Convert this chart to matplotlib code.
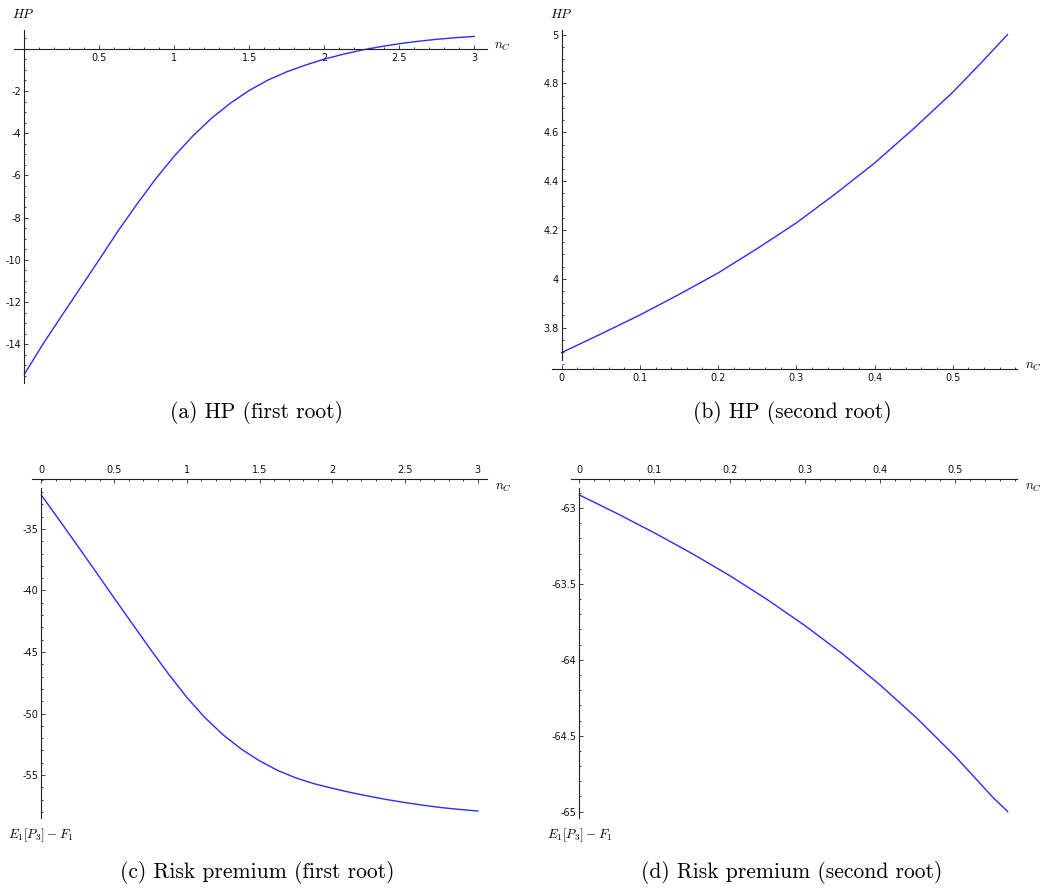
import matplotlib
matplotlib.use("Agg")
import matplotlib.pyplot as plt
from matplotlib.ticker import FixedLocator, MultipleLocator, FuncFormatter

plt.rcParams['axes.unicode_minus'] = False
plt.rcParams['mathtext.fontset'] = 'cm'

# ---- data ----
x_a = [0, 0.125, 0.25, 0.375, 0.5, 0.625, 0.75, 0.875, 1.0, 1.125, 1.25, 1.375,
       1.5, 1.625, 1.75, 1.875, 2.0, 2.125, 2.25, 2.375, 2.5, 2.625, 2.75, 2.875, 3.0]
hp_first = [-15.42, -13.98, -12.64, -11.31, -9.98, -8.63, -7.37, -6.17, -5.08, -4.12,
            -3.28, -2.57, -1.97, -1.48, -1.09, -0.77, -0.49, -0.26, -0.06, 0.10,
            0.24, 0.355, 0.45, 0.525, 0.585]

x_b = [0, 0.05, 0.1, 0.15, 0.2, 0.25, 0.3, 0.35, 0.4, 0.45, 0.5, 0.535, 0.57]
hp_second = [3.698, 3.774, 3.852, 3.936, 4.024, 4.124, 4.229, 4.348, 4.474,
             4.615, 4.764, 4.88, 5.0]

x_c = [0, 0.125, 0.25, 0.375, 0.5, 0.625, 0.75, 0.875, 1.0, 1.125, 1.25, 1.375,
       1.5, 1.625, 1.75, 1.875, 2.0, 2.125, 2.25, 2.375, 2.5, 2.625, 2.75, 2.875, 3.0]
rp_first = [-32.24, -34.30, -36.38, -38.48, -40.60, -42.70, -44.78, -46.80, -48.69,
            -50.34, -51.74, -52.90, -53.85, -54.63, -55.24, -55.71, -56.08, -56.42,
            -56.72, -57.00, -57.24, -57.46, -57.65, -57.80, -57.93]

x_d = [0, 0.05, 0.1, 0.15, 0.2, 0.25, 0.3, 0.35, 0.4, 0.45, 0.5, 0.55, 0.57]
rp_second = [-62.914, -63.036, -63.164, -63.300, -63.445, -63.603, -63.774,
             -63.960, -64.165, -64.389, -64.635, -64.905, -65.0]

xt_a = [0.5, 1, 1.5, 2, 2.5, 3]
yt_a = [-14, -12, -10, -8, -6, -4, -2]
xt_b = [0, 0.1, 0.2, 0.3, 0.4, 0.5]
yt_b = [3.8, 4.0, 4.2, 4.4, 4.6, 4.8, 5.0]
xt_c = [0, 0.5, 1, 1.5, 2, 2.5, 3]
yt_c = [-55, -50, -45, -40, -35]
xt_d = [0, 0.1, 0.2, 0.3, 0.4, 0.5]
yt_d = [-65, -64.5, -64, -63.5, -63]

captions = ["(a) HP (first root)", "(b) HP (second root)",
            "(c) Risk premium (first root)", "(d) Risk premium (second root)"]

W, H = 1052, 894
fig = plt.figure(figsize=(W / 100, H / 100), dpi=100)

LINE = '#2b2bff'
AX = '#222222'


def add_ax(left, right, top, bottom):
    return fig.add_axes([left / W, 1 - bottom / H, (right - left) / W, (bottom - top) / H])


def fmt(v, pos):
    return '%g' % v


def style(ax, xt, yt, xminor, yminor, top=False):
    ax.set_facecolor('none')
    ax.xaxis.set_major_locator(FixedLocator(xt))
    ax.yaxis.set_major_locator(FixedLocator(yt))
    ax.xaxis.set_minor_locator(MultipleLocator(xminor))
    ax.yaxis.set_minor_locator(MultipleLocator(yminor))
    ax.xaxis.set_major_formatter(FuncFormatter(fmt))
    ax.yaxis.set_major_formatter(FuncFormatter(fmt))
    ax.tick_params(which='both', direction='in', colors=AX, labelsize=7,
                   width=0.6, labelcolor='#111111')
    ax.tick_params(which='major', length=3.2)
    ax.tick_params(which='minor', length=1.6)
    ax.tick_params(axis='x', pad=3)
    ax.tick_params(axis='y', pad=2)
    for s in ax.spines.values():
        s.set_color(AX)
        s.set_linewidth(0.8)
    ax.spines['right'].set_visible(False)
    if top:
        ax.spines['bottom'].set_visible(False)
        ax.xaxis.tick_top()
    else:
        ax.spines['top'].set_visible(False)


# (a)
ax = add_ax(14, 487, 30, 382.7)
ax.plot(x_a, hp_first, color=LINE, lw=1.0)
ax.set_xlim(-0.069, 3.085)
ax.set_ylim(-15.82, 0.89)
style(ax, xt_a, yt_a, 0.1, 0.5)
ax.spines['left'].set_position(('data', 0))
ax.spines['bottom'].set_position(('data', 0))

# (b)
ax = add_ax(552, 1016.7, 30, 368.7)
ax.plot(x_b, hp_second, color=LINE, lw=1.0)
ax.set_xlim(-0.0124, 0.5818)
ax.set_ylim(3.632, 5.019)
style(ax, xt_b, yt_b, 0.02, 0.05)
ax.spines['left'].set_position(('data', 0))
ax.spines['left'].set_bounds(3.668, 5.019)

# (c)
ax = add_ax(32.3, 487.3, 479.3, 818.3)
ax.plot(x_c, rp_first, color=LINE, lw=1.0)
ax.set_xlim(-0.0619, 3.065)
ax.set_ylim(-58.52, -30.96)
style(ax, xt_c, yt_c, 0.1, 1.0, top=True)
ax.spines['left'].set_position(('data', 0))
ax.spines['left'].set_bounds(-58.52, -31.69)

# (d)
ax = add_ax(570.7, 1016.7, 479.3, 818.3)
ax.plot(x_d, rp_second, color=LINE, lw=1.0)
ax.set_xlim(-0.01144, 0.5819)
ax.set_ylim(-65.044, -62.811)
style(ax, xt_d, yt_d, 0.02, 0.1, top=True)
ax.spines['left'].set_position(('data', 0))
ax.spines['left'].set_bounds(-65.044, -62.87)


def ftext(x, y, s, **kw):
    fig.text(x / W, 1 - y / H, s, **kw)


# axis labels
ftext(23, 15, r'$HP$', ha='center', va='center', fontsize=9.5)
ftext(561.7, 14, r'$HP$', ha='center', va='center', fontsize=9.5)
ftext(494, 46.5, r'$n_C$', ha='left', va='center', fontsize=9.5)
ftext(1025, 366.5, r'$n_C$', ha='left', va='center', fontsize=9.5)
ftext(495, 488, r'$n_C$', ha='left', va='center', fontsize=9.5)
ftext(1025, 488, r'$n_C$', ha='left', va='center', fontsize=9.5)
ftext(40.7, 835, r'$E_1[P_3]-F_1$', ha='center', va='center', fontsize=9.5)
ftext(579.5, 835, r'$E_1[P_3]-F_1$', ha='center', va='center', fontsize=9.5)

# captions
for (cx, cy), cap in zip([(257, 413), (792, 413), (257, 873), (792, 873)], captions):
    ftext(cx, cy, cap, ha='center', va='center', fontsize=15.5, family='cmr10')

fig.savefig('out.png', dpi=100)
